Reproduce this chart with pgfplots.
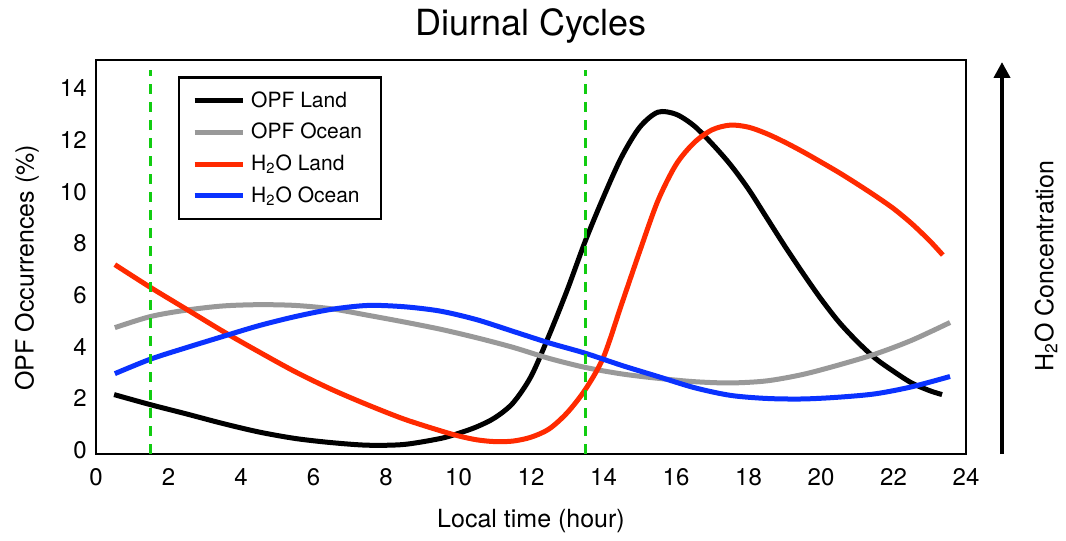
\documentclass[border=0pt]{standalone}
\usepackage{fontspec}
\setmainfont{TeX Gyre Heros}
\usepackage{pgfplots}
\pgfplotsset{compat=1.18}
\usetikzlibrary{arrows.meta}
\definecolor{opfgray}{HTML}{999999}
\definecolor{h2ored}{HTML}{FF2A00}
\definecolor{h2oblue}{HTML}{0A32FF}
\definecolor{vgreen}{HTML}{11CC11}
\begin{document}
\begin{tikzpicture}
\useasboundingbox (-48pt,-43.5pt) rectangle (485pt,227pt);
\begin{axis}[
  at={(0pt,0pt)}, anchor=south west,
  scale only axis, width=435pt, height=197pt,
  xmin=0, xmax=24, ymin=-0.15, ymax=15.1,
  xtick={0,2,...,24}, ytick={0,2,...,14},
  tick style={draw=none},
  axis line style={line width=1.2pt},
  /pgf/number format/assume math mode=true,
  ticklabel style={font=\fontsize{12}{14}\selectfont},
  xticklabel style={inner sep=0pt, yshift=-7pt},
  yticklabel style={inner sep=0pt, xshift=-4.5pt},
  xlabel={Local time (hour)},
  xlabel style={at={(axis description cs:0.5,-0.170)}, anchor=center, font=\fontsize{12.5}{15}\selectfont},
  ylabel={OPF Occurrences (\%)},
  ylabel style={at={(axis description cs:-0.0793,0.473)}, anchor=center, font=\fontsize{12.5}{15}\selectfont},
  legend style={at={(axis description cs:0.0943,0.959)}, anchor=north west, draw=black, line width=1.2pt,
    font=\fontsize{10.5}{12.5}\selectfont, inner xsep=6.5pt, inner ysep=4pt, row sep=0.5pt,
    nodes={inner sep=3pt}},
  legend cell align=left,
  legend image code/.code={\draw[#1, line width=2.5pt] (0pt,0pt) -- (24pt,0pt);},
]
\addplot[black, line width=2.5pt, smooth] coordinates {
(0.5,2.15) (1.5,1.76) (2.5,1.4) (3.5,1.03) (4.5,0.7) (5.5,0.45) (6.5,0.29) (7.5,0.19) (8.5,0.22) (9.5,0.45) (10,0.65) (10.5,0.9) (11,1.25) (11.5,1.82) (12,2.85) (12.5,4.45) (13,6.2) (13.5,8.1) (14,9.8) (14.5,11.35) (15,12.5) (15.5,13.08) (16,13.0) (16.5,12.55) (17,11.85) (17.5,11.05) (18,10.1) (18.5,9.0) (19,7.9) (19.5,6.85) (20,5.85) (20.5,4.95) (21,4.2) (21.5,3.55) (22,3.05) (22.5,2.6) (23,2.3) (23.34,2.15)
};
\addlegendentry{OPF Land}
\addplot[opfgray, line width=2.5pt, smooth] coordinates {
(0.52,4.74) (1.5,5.17) (2.5,5.42) (3.5,5.58) (4.5,5.63) (5.5,5.6) (6.5,5.47) (7.5,5.22) (8.5,4.96) (9.5,4.68) (10.5,4.35) (11.5,3.98) (12.5,3.55) (13.5,3.2) (14.5,2.95) (15.5,2.78) (16.5,2.65) (17.5,2.6) (18.5,2.68) (19.5,2.93) (20.5,3.3) (21.5,3.72) (22.5,4.25) (23.56,4.94)
};
\addlegendentry{OPF Ocean}
\addplot[h2ored, line width=2.5pt, smooth] coordinates {
(0.52,7.18) (1.5,6.3) (2.5,5.45) (3.5,4.6) (4.5,3.8) (5.5,3.03) (6.5,2.35) (7.5,1.75) (8.5,1.2) (9.5,0.75) (10,0.55) (10.5,0.4) (11,0.33) (11.5,0.35) (12,0.5) (12.5,0.82) (13,1.45) (13.5,2.35) (14,3.6) (14.5,5.65) (15,7.7) (15.5,9.65) (16,11.05) (16.5,11.9) (17,12.4) (17.5,12.58) (18,12.5) (18.5,12.25) (19,11.92) (19.5,11.55) (20,11.15) (20.5,10.74) (21,10.3) (21.5,9.84) (22,9.35) (22.5,8.77) (23,8.1) (23.36,7.55)
};
\addlegendentry{H\textsubscript{2}O Land}
\addplot[h2oblue, line width=2.5pt, smooth] coordinates {
(0.52,2.96) (1.5,3.52) (2.5,3.97) (3.5,4.4) (4.5,4.82) (5.5,5.17) (6.5,5.45) (7.5,5.6) (8.5,5.55) (9.5,5.38) (10.5,5.05) (11.5,4.6) (12.5,4.15) (13.5,3.75) (14.5,3.28) (15.5,2.85) (16.5,2.42) (17.5,2.12) (18.5,2.0) (19.5,1.98) (20.5,2.05) (21.5,2.18) (22.5,2.45) (23.56,2.85)
};
\addlegendentry{H\textsubscript{2}O Ocean}
\addplot[vgreen, line width=1.2pt, dash pattern=on 5pt off 4pt, forget plot] coordinates {(1.5,-0.15) (1.5,14.7)};
\addplot[vgreen, line width=1.2pt, dash pattern=on 5pt off 4pt, forget plot] coordinates {(13.5,-0.15) (13.5,14.7)};
\end{axis}
\node[font=\fontsize{18}{21}\selectfont, anchor=center] at (217.5pt,214pt) {Diurnal Cycles};
\draw[line width=2pt, -{Triangle[width=8pt,length=8pt]}] (453pt,0pt) -- (453pt,196pt);
\node[rotate=90, font=\fontsize{12.5}{15}\selectfont] at (475pt,94pt) {H\textsubscript{2}O Concentration};
\end{tikzpicture}
\end{document}
